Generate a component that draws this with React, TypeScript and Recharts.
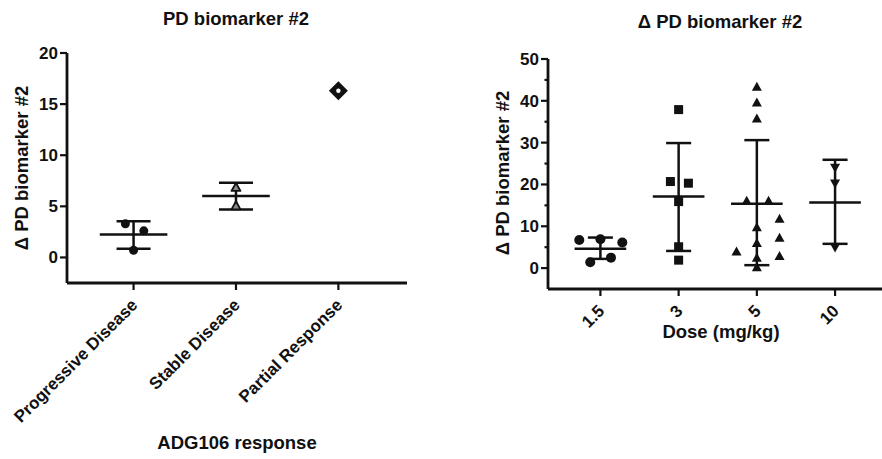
import React from 'react'
import { ReferenceLine, Scatter, ScatterChart, XAxis, YAxis } from 'recharts'

// left panel: response groups
const responseCats = ['Progressive Disease', 'Stable Disease', 'Partial Response']
const progressiveX = [-0.08, 0.1, 0]
const progressiveY = [3.3, 2.6, 0.7]
const stableX = [1, 1]
const stableY = [6.9, 5.1]
const partialX = [2]
const partialY = [16.3]
const responseMean = [2.25, 6.0]
const responseLo = [0.85, 4.7]
const responseHi = [3.55, 7.3]
const responseTicks = [0, 5, 10, 15, 20]

// right panel: dose groups
const doseCats = ['1.5', '3', '5', '10']
const dose15X = [-0.27, 0, 0.28, -0.13, 0.135]
const dose15Y = [6.7, 6.9, 6.1, 1.4, 2.5]
const dose3X = [1, 0.895, 1.125, 1, 1, 1]
const dose3Y = [37.9, 20.7, 20.3, 15.9, 5.1, 1.9]
const dose5X = [2, 2, 2, 1.87, 2.15, 2.29, 2, 2.29, 2, 1.74, 2.29, 2, 2]
const dose5Y = [43.5, 39.7, 35.9, 16.2, 16.2, 11.9, 9.9, 7.4, 6.1, 4.1, 3.0, 2.6, 0.3]
const dose10X = [3, 3, 3]
const dose10Y = [23.9, 20.1, 4.8]
const doseMean = [4.6, 17.1, 15.4, 15.7]
const doseLo = [2.2, 4.1, 0.7, 5.8]
const doseHi = [7.3, 29.9, 30.6, 25.9]
const doseTicks = [0, 5, 10, 15, 20, 25, 30, 35, 40, 45, 50]

const INK = '#111'
const FONT = '"Liberation Sans", Arial, sans-serif'
const RESP_X: [number, number] = [-0.65, 2.67]
const RESP_Y: [number, number] = [-2.5, 20]
const DOSE_X: [number, number] = [-0.67, 3.6]
const DOSE_Y: [number, number] = [-5, 50]

const pts = (xs: number[], ys: number[]) => xs.map((x, i) => ({ x, y: ys[i] }))

const dot = (r: number) => (p: any) => <circle cx={p.cx} cy={p.cy} r={r} fill={INK} />
const square = (s: number) => (p: any) => (
  <rect x={p.cx - s / 2} y={p.cy - s / 2} width={s} height={s} fill={INK} />
)
const triangle = (s: number, up: boolean, open = false) => (p: any) => {
  const h = s * 0.9
  const d = up
    ? `M${p.cx},${p.cy - h / 2} L${p.cx + s / 2},${p.cy + h / 2} L${p.cx - s / 2},${p.cy + h / 2} Z`
    : `M${p.cx},${p.cy + h / 2} L${p.cx + s / 2},${p.cy - h / 2} L${p.cx - s / 2},${p.cy - h / 2} Z`
  return open ? (
    <path d={d} fill="#888" stroke={INK} strokeWidth={1.8} strokeLinejoin="round" />
  ) : (
    <path d={d} fill={INK} />
  )
}
const diamond = (s: number) => (p: any) => (
  <g>
    <path
      d={`M${p.cx},${p.cy - s / 2} L${p.cx + s / 2},${p.cy} L${p.cx},${p.cy + s / 2} L${p.cx - s / 2},${p.cy} Z`}
      fill={INK}
    />
    <circle cx={p.cx} cy={p.cy} r={2.2} fill="#fff" />
  </g>
)

// x tick: short vertical tick plus a label slanted at 45 degrees
function SlantTick({ x, y, payload, labels }: any) {
  return (
    <g>
      <line x1={x} x2={x} y1={y - 9} y2={y - 2} stroke={INK} strokeWidth={2.2} />
      <g transform={`translate(${x + 5},${y + 14}) rotate(-45)`}>
        <text x={0} y={0} textAnchor="end" fontFamily={FONT} fontWeight={700} fontSize={17} fill={INK}>
          {labels[payload.value]}
        </text>
      </g>
    </g>
  )
}

// y tick: labelled majors, shorter unlabelled minors (every tick labelled when step = 0)
function YTick({ x, y, payload, step }: any) {
  const major = !step || payload.value % step === 0
  return (
    <g>
      <line x1={x + 2 + (major ? 0 : 3.5)} x2={x + 9} y1={y} y2={y} stroke={INK} strokeWidth={2.2} />
      {major && (
        <text x={x} y={y} dy="0.35em" textAnchor="end" fontFamily={FONT} fontWeight={700} fontSize={17} fill={INK}>
          {payload.value}
        </text>
      )}
    </g>
  )
}

function MeanSd({ cx, mean, lo, hi, half, cap }: any) {
  return (
    <>
      <ReferenceLine segment={[{ x: cx - half, y: mean }, { x: cx + half, y: mean }]} stroke={INK} strokeWidth={2.5} />
      <ReferenceLine segment={[{ x: cx - cap, y: hi }, { x: cx + cap, y: hi }]} stroke={INK} strokeWidth={2.5} />
      <ReferenceLine segment={[{ x: cx - cap, y: lo }, { x: cx + cap, y: lo }]} stroke={INK} strokeWidth={2.5} />
      <ReferenceLine segment={[{ x: cx, y: lo }, { x: cx, y: hi }]} stroke={INK} strokeWidth={2.5} />
    </>
  )
}

const labelStyle: React.CSSProperties = {
  position: 'absolute',
  fontFamily: FONT,
  fontWeight: 700,
  fontSize: 18.5,
  color: INK,
  whiteSpace: 'nowrap',
  transform: 'translate(-50%,-50%)',
  lineHeight: 1,
}

function ResponsePanel() {
  return (
    <ScatterChart width={441} height={459} margin={{ top: 53, right: 34, bottom: 36, left: 17 }}>
      <XAxis
        type="number"
        dataKey="x"
        domain={RESP_X}
        ticks={[0, 1, 2]}
        allowDataOverflow
        height={140}
        axisLine={false}
        tickLine={false}
        tickSize={7}
        tick={<SlantTick labels={responseCats} />}
      />
      <YAxis
        type="number"
        dataKey="y"
        domain={RESP_Y}
        ticks={responseTicks}
        interval={0}
        allowDataOverflow
        width={50}
        axisLine={false}
        tickLine={false}
        tickSize={7}
        tickMargin={2}
        tick={<YTick step={0} />}
      />
      <ReferenceLine x={RESP_X[0]} stroke={INK} strokeWidth={2.8} />
      <ReferenceLine y={RESP_Y[0]} stroke={INK} strokeWidth={2.8} />
      {responseMean.map((m, i) => (
        <MeanSd key={i} cx={i} mean={m} lo={responseLo[i]} hi={responseHi[i]} half={0.33} cap={0.166} />
      ))}
      <Scatter data={pts(progressiveX, progressiveY)} shape={dot(4.5)} isAnimationActive={false} />
      <Scatter data={pts(stableX, stableY)} shape={triangle(9, true, true)} isAnimationActive={false} />
      <Scatter data={pts(partialX, partialY)} shape={diamond(19)} isAnimationActive={false} />
    </ScatterChart>
  )
}

function DosePanel() {
  return (
    <ScatterChart width={441} height={459} margin={{ top: 59, right: 0, bottom: 30, left: 57 }}>
      <XAxis
        type="number"
        dataKey="x"
        domain={DOSE_X}
        ticks={[0, 1, 2, 3]}
        allowDataOverflow
        height={140}
        axisLine={false}
        tickLine={false}
        tickSize={7}
        tick={<SlantTick labels={doseCats} />}
      />
      <YAxis
        type="number"
        dataKey="y"
        domain={DOSE_Y}
        ticks={doseTicks}
        interval={0}
        allowDataOverflow
        width={50}
        axisLine={false}
        tickLine={false}
        tickSize={7}
        tickMargin={2}
        tick={<YTick step={10} />}
      />
      <ReferenceLine x={DOSE_X[0]} stroke={INK} strokeWidth={2.8} />
      <ReferenceLine y={DOSE_Y[0]} stroke={INK} strokeWidth={2.8} />
      {doseMean.map((m, i) => (
        <MeanSd key={i} cx={i} mean={m} lo={doseLo[i]} hi={doseHi[i]} half={0.33} cap={0.16} />
      ))}
      <Scatter data={pts(dose15X, dose15Y)} shape={dot(5)} isAnimationActive={false} />
      <Scatter data={pts(dose3X, dose3Y)} shape={square(9)} isAnimationActive={false} />
      <Scatter data={pts(dose5X, dose5Y)} shape={triangle(10, true)} isAnimationActive={false} />
      <Scatter data={pts(dose10X, dose10Y)} shape={triangle(10, false)} isAnimationActive={false} />
    </ScatterChart>
  )
}

export default function App() {
  return (
    <div style={{ position: 'absolute', left: 0, top: 0, width: 882, height: 459, background: '#fff', overflow: 'hidden' }}>
      <div style={{ position: 'absolute', left: 0, top: 0 }}>
        <ResponsePanel />
      </div>
      <div style={{ position: 'absolute', left: 441, top: 0 }}>
        <DosePanel />
      </div>
      <div style={{ ...labelStyle, left: 236, top: 19 }}>PD biomarker #2</div>
      <div style={{ ...labelStyle, left: 720, top: 22 }}>Δ PD biomarker #2</div>
      <div style={{ ...labelStyle, left: 22, top: 168, transform: 'translate(-50%,-50%) rotate(-90deg)' }}>
        Δ PD biomarker #2
      </div>
      <div style={{ ...labelStyle, left: 503, top: 173, transform: 'translate(-50%,-50%) rotate(-90deg)' }}>
        Δ PD biomarker #2
      </div>
      <div style={{ ...labelStyle, left: 237, top: 443 }}>ADG106 response</div>
      <div style={{ ...labelStyle, left: 721, top: 332 }}>Dose (mg/kg)</div>
    </div>
  )
}
